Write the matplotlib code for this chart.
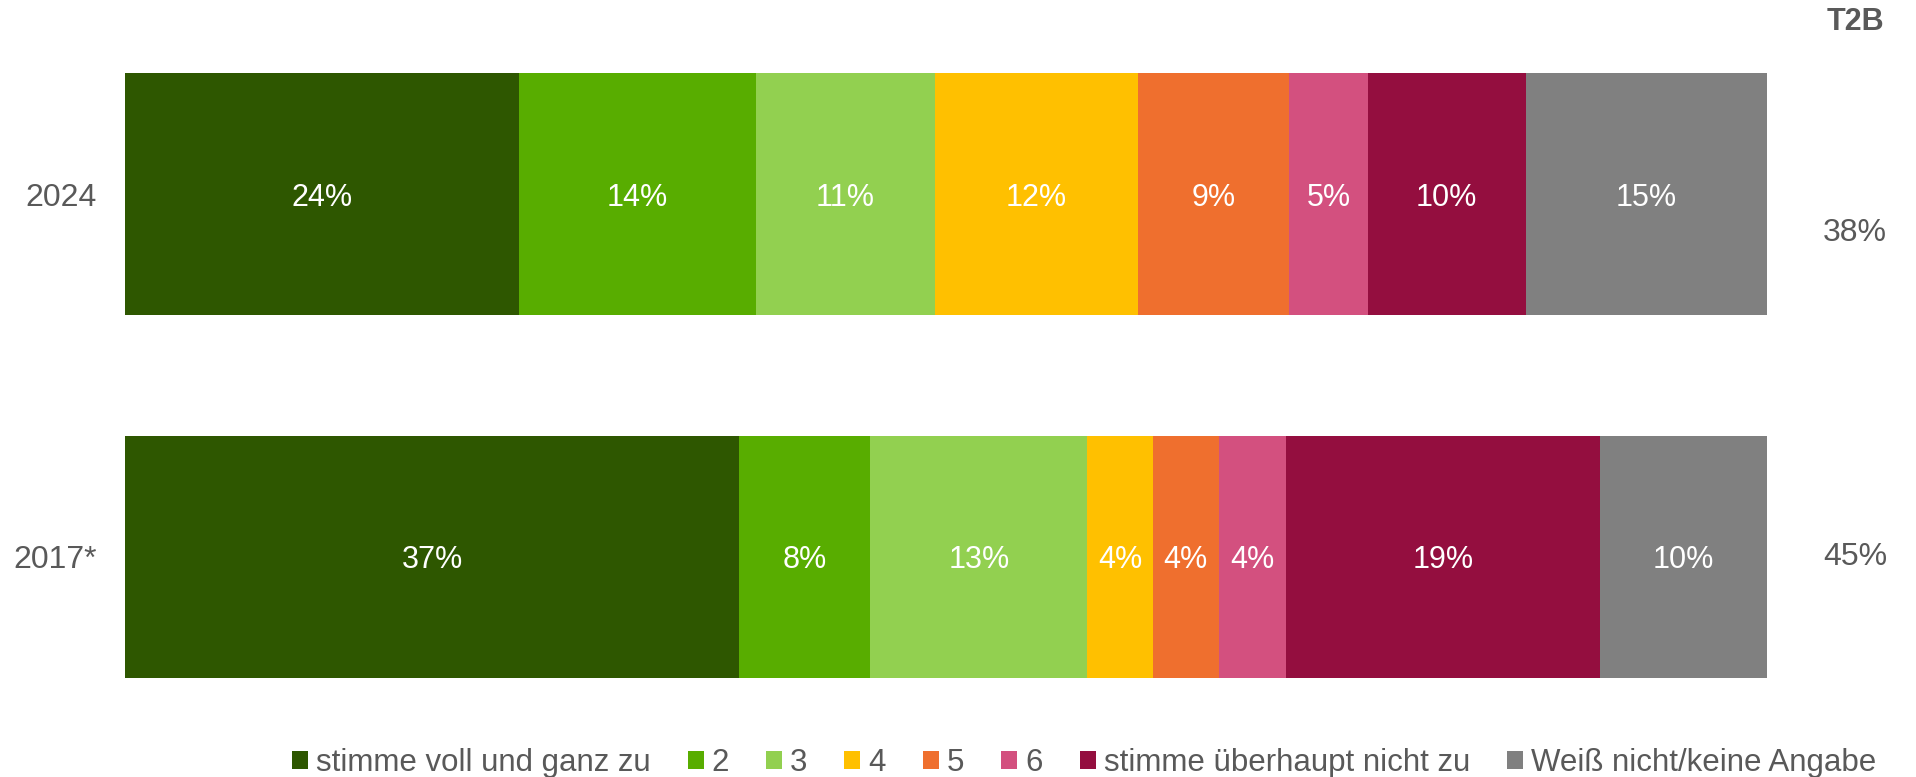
import matplotlib
matplotlib.use("Agg")
import matplotlib.pyplot as plt
from matplotlib.patches import Patch

plt.rcParams['font.family'] = ['Liberation Sans', 'DejaVu Sans']

years = ["2024", "2017*"]
categories = ["stimme voll und ganz zu", "2", "3", "4", "5", "6",
              "stimme überhaupt nicht zu", "Weiß nicht/keine Angabe"]
values_2024 = [24.0, 14.4, 10.9, 12.4, 9.2, 4.8, 9.6, 14.7]
values_2017 = [37.4, 8.0, 13.2, 4.0, 4.0, 4.1, 19.1, 10.2]
t2b_labels = ["38%", "45%"]
colors = ["#2E5700", "#58AD00", "#92D050", "#FFC000", "#EF6F2E",
          "#D3507F", "#940E3F", "#808080"]

W, H = 1916, 777
DPI = 100
fig = plt.figure(figsize=(W / DPI, H / DPI), dpi=DPI)
TXT = "#595959"
FS = 22

ax_left, ax_right = 125, 1767
ax_top, ax_bot = 12.5, 738.5
ax = fig.add_axes([ax_left / W, 1 - ax_bot / H, (ax_right - ax_left) / W, (ax_bot - ax_top) / H])

data = [values_2024, values_2017]
ypos = [0, 1]
for y, vals in zip(ypos, data):
    left = 0
    for v, c in zip(vals, colors):
        ax.barh(y, v, left=left, height=0.667, color=c, edgecolor='none')
        ax.text(left + v / 2, y, f"{round(v):d}%", ha='center', va='center_baseline',
                color='white', fontsize=FS)
        left += v

ax.set_xlim(0, sum(values_2024))
ax.set_ylim(1.5, -0.5)
ax.set_yticks(ypos)
ax.set_yticklabels(years, fontsize=23, color=TXT)
ax.tick_params(axis='y', length=0, pad=20)
ax.set_xticks([])
for s in ax.spines.values():
    s.set_visible(False)

# T2B column
fig.text(1855 / W, 1 - 22 / H, "T2B", ha='center', va='center', fontsize=FS,
         fontweight='bold', color=TXT)
fig.text(1855 / W, 1 - 233 / H, t2b_labels[0], ha='center', va='center',
         fontsize=23, color=TXT)
fig.text(1855 / W, 1 - 557 / H, t2b_labels[1], ha='center', va='center',
         fontsize=23, color=TXT)

handles = [Patch(facecolor=c, edgecolor='none') for c in colors]
fs_leg = 22.5
px = fs_leg * DPI / 72
fig.legend(handles, categories, loc='center', bbox_to_anchor=(1084 / W, 1 - 763 / H),
           ncol=8, frameon=False, fontsize=fs_leg, labelcolor=TXT,
           handlelength=16 / px, handleheight=16 / px, handletextpad=8 / px,
           columnspacing=37 / px, borderpad=0, borderaxespad=0)

fig.savefig("out.png", dpi=DPI)
